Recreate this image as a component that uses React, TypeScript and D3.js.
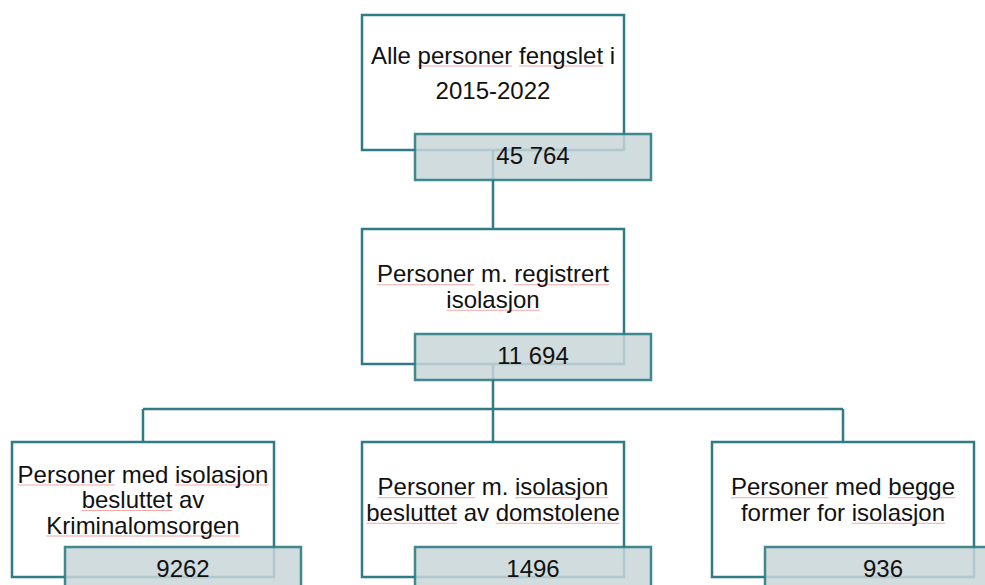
import React from "react";
import * as d3 from "d3";

// ---- data ----
const topLabel = ["Alle personer fengslet i", "2015-2022"];
const topValue = "45 764";
const midLabel = ["Personer m. registrert", "isolasjon"];
const midValue = "11 694";
const bottomKeys = ["kriminalomsorgen", "domstolene", "begge"];
const bottomLabels = [
  ["Personer med isolasjon", "besluttet av", "Kriminalomsorgen"],
  ["Personer m. isolasjon", "besluttet av domstolene"],
  ["Personer med begge", "former for isolasjon"],
];
const bottomValues = ["9262", "1496", "936"];
// words marked by the spell checker in the original picture
const flaggedWords = ["personer", "Personer", "fengslet", "registrert", "isolasjon", "besluttet", "Kriminalomsorgen", "domstolene", "begge"];

const W = 985;
const H = 585;
const TEAL = "#2f7c86";
const FONT = "Liberation Sans, Arial, Helvetica, sans-serif";
const FS = 24;

const boxW = 262;
const boxH = 135;
const valOffX = 53;
const valW = 236;
const valH = 46;

const rowY = d3.scaleOrdinal<string, number>().domain(["top", "mid", "bottom"]).range([15, 229, 442]);
const colX = d3.scalePoint<string>().domain(bottomKeys).range([143, 843]);

let ctx: CanvasRenderingContext2D | null = null;
function measure(s: string): number {
  if (!ctx) {
    const c = document.createElement("canvas");
    ctx = c.getContext("2d");
  }
  if (!ctx) return s.length * FS * 0.5;
  ctx.font = `${FS}px ${FONT}`;
  return ctx.measureText(s).width;
}

function Node({ cx, top, lines, value, lineGap, overlap }: { cx: number; top: number; lines: string[]; value: string; lineGap: number; overlap: number }) {
  const x0 = cx - boxW / 2;
  const midBase = top + 66;
  const n = lines.length;
  const vy = top + boxH - overlap;
  return (
    <g>
      <rect x={x0} y={top} width={boxW} height={boxH} fill="#fff" stroke={TEAL} strokeWidth={2.5} />
      {lines.map((ln, i) => {
        const by = midBase + (i - (n - 1) / 2) * lineGap;
        const total = measure(ln);
        const startX = cx - total / 2;
        const words = ln.split(" ");
        const marks: React.ReactNode[] = [];
        words.forEach((w, wi) => {
          const prefix = words.slice(0, wi).join(" ") + (wi > 0 ? " " : "");
          const acc = measure(prefix);
          const ww = measure(w);
          if (flaggedWords.includes(w)) {
            marks.push(
              <line key={wi} x1={startX + acc} x2={startX + acc + ww} y1={by + 2.5} y2={by + 2.5} stroke="#f5a8a8" strokeWidth={1} />
            );
          }
        });
        return (
          <g key={i}>
            {marks}
            <text x={cx} y={by} textAnchor="middle" fontFamily={FONT} fontSize={FS} fill="#111">
              {ln}
            </text>
          </g>
        );
      })}
      <rect
        x={x0 + valOffX}
        y={vy}
        width={valW}
        height={valH}
        fill="rgb(200,214,216)"
        fillOpacity={0.85}
        stroke={TEAL}
        strokeOpacity={0.9}
        strokeWidth={2.5}
      />
      <text x={x0 + valOffX + valW / 2} y={vy + 30} textAnchor="middle" fontFamily={FONT} fontSize={FS} fill="#111">
        {value}
      </text>
    </g>
  );
}

export default function App() {
  const cTop = 493;
  const yTop = rowY("top");
  const yMid = rowY("mid");
  const yBot = rowY("bottom");
  const hLineY = 409;
  const xs = bottomKeys.map((k) => colX(k) as number);
  return (
    <svg width={W} height={H} style={{ position: "absolute", left: 0, top: 0, background: "#fff" }}>
      {/* connectors */}
      <g stroke={TEAL} strokeWidth={2.5} fill="none">
        <line x1={cTop} x2={cTop} y1={yTop + boxH} y2={yMid} />
        <line x1={cTop} x2={cTop} y1={yMid + boxH} y2={hLineY} />
        <line x1={d3.min(xs)} x2={d3.max(xs)} y1={hLineY} y2={hLineY} />
        {xs.map((x, i) => (
          <line key={i} x1={x} x2={x} y1={hLineY} y2={yBot} />
        ))}
      </g>
      <Node cx={cTop} top={yTop} lines={topLabel} value={topValue} lineGap={35} overlap={16} />
      <Node cx={cTop} top={yMid} lines={midLabel} value={midValue} lineGap={25.5} overlap={30} />
      {bottomKeys.map((k, i) => (
        <Node key={k} cx={colX(k) as number} top={yBot} lines={bottomLabels[i]} value={bottomValues[i]} lineGap={25.5} overlap={30} />
      ))}
    </svg>
  );
}
